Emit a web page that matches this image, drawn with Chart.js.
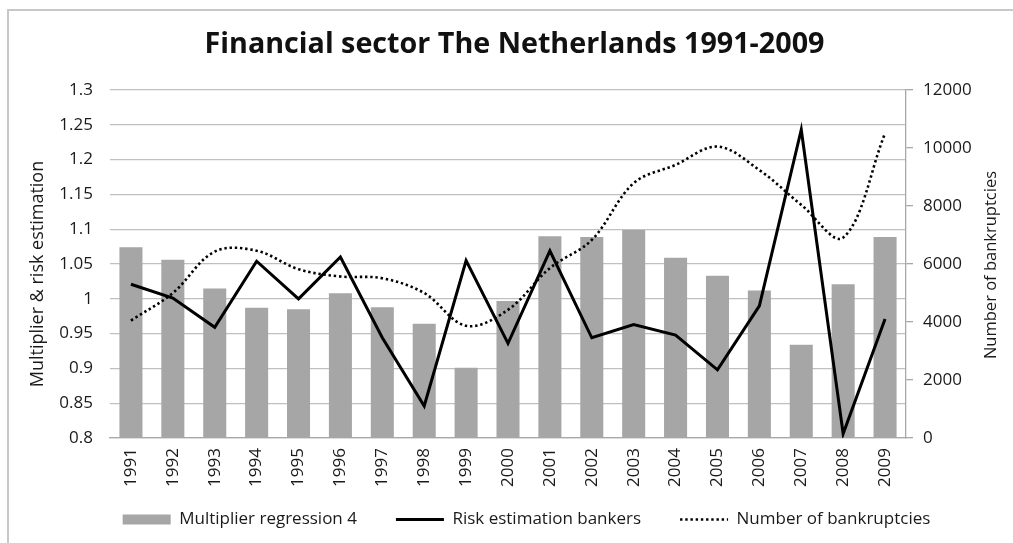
<!DOCTYPE html>
<html>
<head>
<meta charset="utf-8">
<title>Financial sector The Netherlands 1991-2009</title>
<script src="https://cdn.jsdelivr.net/npm/chart.js@4.4.1/dist/chart.umd.min.js"></script>
<style>
  html, body { margin: 0; padding: 0; background: #fff; overflow: hidden; }
  #wrap { position: relative; width: 1013px; height: 543px; }
  #frame { position: absolute; left: 7px; top: 9px; width: 1100px; height: 600px; border: 2px solid #c8c8c8; }
  canvas { position: absolute; left: 0; top: 0; }
</style>
</head>
<body>
<div id="wrap">
  <div id="frame"></div>
  <canvas id="myChart" width="1013" height="543"></canvas>
</div>
<script>
const years = ['1991','1992','1993','1994','1995','1996','1997','1998','1999','2000',
               '2001','2002','2003','2004','2005','2006','2007','2008','2009'];
const multiplier = [1.074, 1.056, 1.015, 0.987, 0.985, 1.008, 0.988, 0.964, 0.901, 0.997,
                    1.090, 1.089, 1.099, 1.059, 1.033, 1.012, 0.934, 1.021, 1.089];
const riskEstimation = [1.021, 1.001, 0.959, 1.054, 1.000, 1.060, 0.944, 0.846, 1.055, 0.936,
                        1.069, 0.944, 0.963, 0.948, 0.898, 0.990, 1.243, 0.806, 0.971];
const bankruptcies = [4050, 5000, 6430, 6460, 5820, 5570, 5510, 5000, 3870, 4420,
                      5860, 6830, 8790, 9420, 10050, 9240, 8040, 6910, 10510];
const leftTicks = [0.8, 0.85, 0.9, 0.95, 1, 1.05, 1.1, 1.15, 1.2, 1.25, 1.3];
const rightTicks = [0, 2000, 4000, 6000, 8000, 10000, 12000];

const textColor = '#1a1a1a';
const gridColor = '#c0c0c0';
const axisColor = '#a8a8a8';
Chart.defaults.font.family = '"Open Sans", sans-serif';
Chart.defaults.color = textColor;

// both axis titles read bottom-to-top, so draw them by hand
const axisTitles = {
  id: 'axisTitles',
  afterDraw(chart) {
    const ctx = chart.ctx;
    const mid = (chart.chartArea.top + chart.chartArea.bottom) / 2;
    const items = [
      ['Multiplier & risk estimation', 18, chart.scales.y.left + 38, mid + 10],
      ['Number of bankruptcies', 16.5, chart.scales.y1.right - 22, mid + 1]
    ];
    ctx.save();
    ctx.fillStyle = textColor;
    ctx.textAlign = 'center';
    ctx.textBaseline = 'middle';
    items.forEach(([txt, size, x, y]) => {
      ctx.save();
      ctx.font = size + 'px "Open Sans"';
      ctx.translate(x, y);
      ctx.rotate(-Math.PI / 2);
      ctx.fillText(txt, 0, 0);
      ctx.restore();
    });
    ctx.restore();
  }
};

// nudge the title and legend row a bit to the right
const blockShift = {
  id: 'blockShift',
  afterLayout(chart) {
    chart.legend.left += 20;
    chart.legend.right += 20;
    chart.titleBlock.left += 8;
    chart.titleBlock.right += 8;
  }
};

const legendStyles = ['rect', 'line', 'line'];

new Chart(document.getElementById('myChart'), {
  type: 'bar',
  data: {
    labels: years,
    datasets: [{
      type: 'bar',
      label: 'Multiplier regression 4',
      data: multiplier,
      backgroundColor: '#a6a6a6',
      borderWidth: 0,
      barPercentage: 0.55,
      categoryPercentage: 1.0,
      yAxisID: 'y',
      order: 3
    }, {
      type: 'line',
      label: 'Risk estimation bankers',
      data: riskEstimation,
      borderColor: '#000',
      backgroundColor: '#000',
      borderWidth: 3,
      tension: 0,
      pointRadius: 0,
      fill: false,
      yAxisID: 'y',
      order: 1
    }, {
      type: 'line',
      label: 'Number of bankruptcies',
      data: bankruptcies,
      borderColor: '#000',
      backgroundColor: '#000',
      borderWidth: 2.6,
      borderDash: [2.4, 2.8],
      tension: 0.35,
      pointRadius: 0,
      fill: false,
      yAxisID: 'y1',
      order: 2
    }]
  },
  options: {
    responsive: false,
    devicePixelRatio: 1,
    animation: false,
    layout: { padding: { left: 0, right: 0, top: 0, bottom: 5 } },
    plugins: {
      title: {
        display: true,
        text: 'Financial sector The Netherlands 1991-2009',
        color: '#111',
        font: { size: 28.7, weight: 'bold' },
        padding: { top: 28, bottom: 27.6 }
      },
      legend: {
        position: 'bottom',
        labels: {
          usePointStyle: true,
          pointStyleWidth: 48,
          boxHeight: 10,
          padding: 39,
          color: textColor,
          font: { size: 17 },
          generateLabels: chart => chart.data.datasets.map((ds, i) => ({
            text: ds.label,
            datasetIndex: i,
            fillStyle: ds.backgroundColor,
            strokeStyle: ds.borderColor || ds.backgroundColor,
            lineWidth: ds.type === 'bar' ? 0 : ds.borderWidth,
            lineDash: ds.borderDash || [],
            pointStyle: legendStyles[i],
            hidden: !chart.isDatasetVisible(i),
            fontColor: textColor
          }))
        }
      },
      tooltip: { enabled: false }
    },
    scales: {
      x: {
        ticks: { minRotation: 90, maxRotation: 90, autoSkip: false, padding: 10, font: { size: 17 } },
        grid: { display: false, drawTicks: false },
        border: { display: true, color: axisColor, width: 1.3 },
        afterFit: s => {
          s.height = 34;
          // the year labels run down past the legend's top edge; don't clip them
          s._computeLabelArea = () => undefined;
        }
      },
      y: {
        position: 'left',
        min: 0.8,
        max: 1.3,
        afterBuildTicks: s => { s.ticks = leftTicks.map(v => ({ value: v })); },
        ticks: { padding: 17, font: { size: 17 }, callback: v => String(+v.toFixed(2)) },
        grid: { color: gridColor, lineWidth: 1.3, drawTicks: false },
        border: { display: false },
        afterFit: s => { s.width = 110; }
      },
      y1: {
        position: 'right',
        min: 0,
        max: 12000,
        afterBuildTicks: s => { s.ticks = rightTicks.map(v => ({ value: v })); },
        ticks: { padding: 10, font: { size: 17 }, callback: v => String(v) },
        grid: { drawOnChartArea: false, color: axisColor, lineWidth: 1.3, tickLength: 7 },
        border: { display: true, color: axisColor, width: 1.3 },
        afterFit: s => { s.width = 107; }
      }
    }
  },
  plugins: [axisTitles, blockShift]
});
</script>
</body>
</html>
